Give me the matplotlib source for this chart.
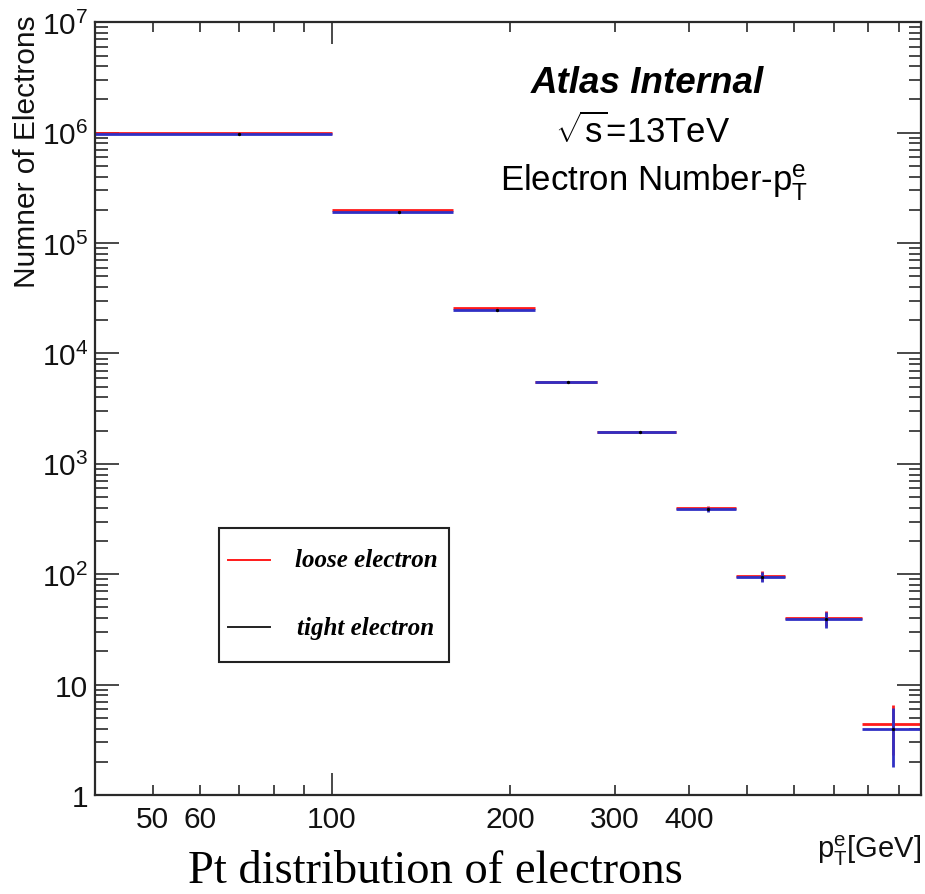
import numpy as np
import matplotlib
matplotlib.use("Agg")
import matplotlib.pyplot as plt
from matplotlib.ticker import FixedLocator, FuncFormatter, NullFormatter
from matplotlib.patches import Rectangle
from matplotlib.lines import Line2D

plt.rcParams['font.family'] = ['Liberation Sans', 'DejaVu Sans']
plt.rcParams['mathtext.fontset'] = 'custom'
plt.rcParams['mathtext.rm'] = 'Liberation Sans'
plt.rcParams['mathtext.it'] = 'Liberation Sans:italic'
plt.rcParams['mathtext.bf'] = 'Liberation Sans:bold'

# ---- data ----
bin_edges = [40, 100, 160, 220, 280, 380, 480, 580, 780, 980]
loose_counts = [1.0e6, 2.0e5, 2.6e4, 5.5e3, 1.95e3, 395, 97, 40, 4.4]
loose_errors = [1000, 450, 160, 74, 44, 20, 10, 6.3, 2.1]
tight_counts = [0.97e6, 1.92e5, 2.5e4, 5.5e3, 1.95e3, 388, 95, 39, 4.0]
tight_errors = [985, 440, 158, 74, 44, 20, 10, 6.2, 2.2]

x_major_ticks = [100]
x_minor_ticks = [50, 60, 70, 80, 90, 200, 300, 400, 500, 600, 700, 800, 900]
x_labeled = [50, 60, 100, 200, 300, 400]
y_range = (1, 1e7)

series_labels = ["loose electron", "tight electron"]
loose_color = '#ff1a1a'
tight_color = '#3030c4'

# ---- figure ----
W, H = 925, 895
fig = plt.figure(figsize=(W / 100, H / 100), dpi=100)
ax_l, ax_r, ax_t, ax_b = 95, 920.7, 23.3, 796
ax = fig.add_axes([ax_l / W, 1 - ax_b / H, (ax_r - ax_l) / W, (ax_b - ax_t) / H])

edges = np.array(bin_edges, dtype=float)
lefts, rights = edges[:-1], edges[1:]
centers = (lefts + rights) / 2

ax.errorbar(centers, loose_counts, xerr=[centers - lefts, rights - centers],
            yerr=loose_errors, fmt='none', ecolor=loose_color, elinewidth=2.0, capsize=0)
ax.errorbar(centers, tight_counts, xerr=[centers - lefts, rights - centers],
            yerr=tight_errors, fmt='none', ecolor=tight_color, elinewidth=2.0, capsize=0)
ax.plot(centers, tight_counts, 'o', color='black', ms=2.4, mew=0, zorder=5)

ax.set_xscale('log')
ax.set_yscale('log')
ax.set_xlim(edges[0], edges[-1])
ax.set_ylim(*y_range)

ax.xaxis.set_major_locator(FixedLocator(x_major_ticks))
ax.xaxis.set_minor_locator(FixedLocator(x_minor_ticks))

def xfmt(v, pos):
    iv = int(round(v))
    return str(iv) if iv in x_labeled else ''

ax.xaxis.set_major_formatter(FuncFormatter(xfmt))
ax.xaxis.set_minor_formatter(FuncFormatter(xfmt))

def yfmt(v, pos):
    e = int(round(np.log10(v)))
    if e == 0:
        return '1'
    if e == 1:
        return '10'
    return r'$10^{%d}$' % e

ax.yaxis.set_major_locator(FixedLocator([10.0 ** k for k in range(0, 8)]))
ax.yaxis.set_minor_locator(FixedLocator([m * 10.0 ** k for k in range(0, 7) for m in range(2, 10)]))
ax.yaxis.set_major_formatter(FuncFormatter(yfmt))
ax.yaxis.set_minor_formatter(NullFormatter())

spine_c = '#2a2a2a'
for s in ax.spines.values():
    s.set_linewidth(1.6)
    s.set_color(spine_c)

ax.tick_params(which='both', direction='in', top=True, right=True, color=spine_c, width=1.2,
               labelsize=21.5, labelcolor='#111111')
ax.tick_params(axis='x', which='major', length=15.8, pad=7)
ax.tick_params(axis='x', which='minor', length=7.2, pad=7)
ax.tick_params(axis='y', which='major', length=17.3, pad=5)
ax.tick_params(axis='y', which='minor', length=9.0)

# axis titles
fig.text(27 / W, 1 - 15 / H, 'Numner of Electrons', rotation=90, ha='center', va='top',
         fontsize=21.5, color='#111111')
fig.text(921 / W, 1 - 858 / H, r'$\mathrm{p}_{\mathrm{T}}^{\mathrm{e}}$[GeV]', ha='right',
         va='baseline', fontsize=21, color='#111111')

# annotations
fig.text(531 / W, 1 - 93.3 / H, 'Atlas Internal', ha='left', va='baseline',
         fontsize=26.5, fontweight='bold', fontstyle='italic')
fig.text(555 / W, 1 - 143.3 / H, r'$\sqrt{\mathrm{s}}$=13TeV', ha='left', va='baseline',
         fontsize=25)
fig.text(500 / W, 1 - 191.7 / H, r'Electron Number-$\mathrm{p}_{\mathrm{T}}^{\mathrm{e}}$',
         ha='left', va='baseline', fontsize=25)

# legend box
lx0, ly0, lx1, ly1 = 219, 529.3, 449.3, 663.3
fig.patches.append(Rectangle((lx0 / W, 1 - ly1 / H), (lx1 - lx0) / W, (ly1 - ly0) / H,
                             transform=fig.transFigure, fill=False, lw=1.5, ec='#222222'))
for yy, col, lab, tx in [(561, loose_color, series_labels[0], 295),
                         (628.3, '#222222', series_labels[1], 297)]:
    fig.lines.append(Line2D([228 / W, 270 / W], [1 - yy / H, 1 - yy / H],
                            transform=fig.transFigure, color=col, lw=1.4))
    fig.text(tx / W, 1 - yy / H, lab, ha='left', va='center', fontsize=18,
             family='Liberation Serif', fontstyle='italic', fontweight='bold')

# caption
fig.text(435 / W, 1 - 893 / H, 'Pt distribution of electrons', ha='center', va='bottom',
         fontsize=33.5, family='Liberation Serif')

fig.savefig('out.png', dpi=100)
